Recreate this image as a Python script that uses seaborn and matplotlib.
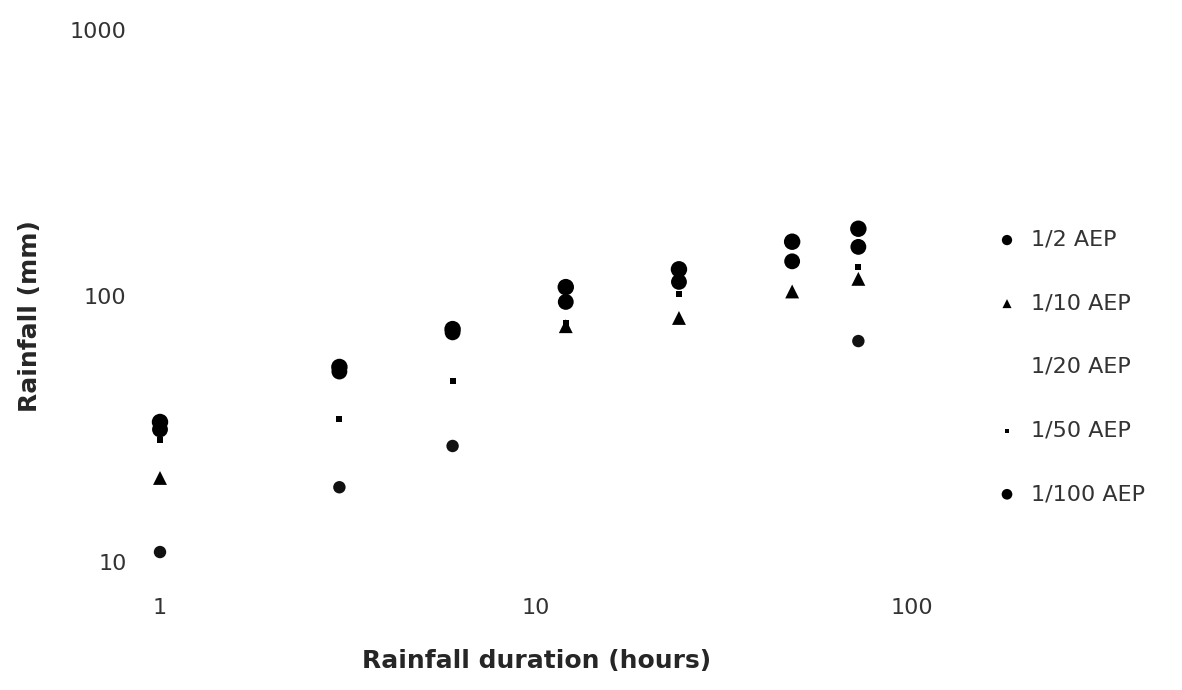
import matplotlib
matplotlib.use("Agg")
import matplotlib.pyplot as plt
import seaborn as sns
import numpy as np
import pandas as pd
from matplotlib.ticker import FixedLocator, FixedFormatter, NullLocator

# Rainfall depth (mm) by storm duration (hours) for each annual exceedance probability
nan = np.nan
durations = [1, 3, 6, 12, 24, 48, 72]
aep_labels = ["1/2 AEP", "1/10 AEP", "1/20 AEP", "1/50 AEP", "1/100 AEP"]
rain_aep2 = [31.5, 52.0, 73.0, 95.0, 113.0, 135.0, 153.0]
rain_aep10 = [20.7, nan, nan, 77.0, 82.7, 104.0, 116.0]
rain_aep20 = [10.9, 19.1, 27.3, nan, nan, nan, 67.7]
rain_aep50 = [28.8, 34.5, 47.9, 79.0, 102.0, nan, 128.5]
rain_aep100 = [33.6, 54.1, 75.1, 108.0, 126.0, 160.0, 179.0]
x_ticks = [1, 10, 100]
y_ticks = [10, 100, 1000]

series = [rain_aep2, rain_aep10, rain_aep20, rain_aep50, rain_aep100]
frames = []
for label, vals in zip(aep_labels, series):
    frames.append(pd.DataFrame({"duration": durations, "rain": vals, "aep": label}))
df = pd.concat(frames, ignore_index=True).dropna()

styles = {
    "1/2 AEP": dict(marker="o", s=130, color="black"),
    "1/10 AEP": dict(marker="^", s=100, color="black"),
    "1/20 AEP": dict(marker="o", s=80, color="#111111"),
    "1/50 AEP": dict(marker="s", s=18, color="black"),
    "1/100 AEP": dict(marker="o", s=140, color="black"),
}

sns.set_style("white")
plt.rcParams["font.family"] = ["DejaVu Sans"]

fig = plt.figure(figsize=(11.82, 6.9), dpi=100)
ax = fig.add_axes([160 / 1182, 1 - 562 / 690, (912 - 160) / 1182, (562 - 30) / 690])

for label in aep_labels:
    sub = df[df["aep"] == label]
    st = styles[label]
    sns.scatterplot(data=sub, x="duration", y="rain", marker=st["marker"], s=st["s"],
                    color=st["color"], edgecolor="none", linewidth=0, label=label, ax=ax)

ax.set_xscale("log")
ax.set_yscale("log")
ax.set_xlim(1, 100)
ax.set_ylim(10, 1000)
ax.xaxis.set_major_locator(FixedLocator(x_ticks))
ax.xaxis.set_major_formatter(FixedFormatter([str(t) for t in x_ticks]))
ax.yaxis.set_major_locator(FixedLocator(y_ticks))
ax.yaxis.set_major_formatter(FixedFormatter([str(t) for t in y_ticks]))
ax.xaxis.set_minor_locator(NullLocator())
ax.yaxis.set_minor_locator(NullLocator())
ax.tick_params(axis="both", length=0, labelsize=16, colors="#333333")
ax.tick_params(axis="x", pad=26)
ax.tick_params(axis="y", pad=24)
for sp in ax.spines.values():
    sp.set_visible(False)
for coll in ax.collections:
    coll.set_clip_on(False)

ax.set_xlabel("Rainfall duration (hours)", fontsize=18, fontweight="bold", va="center")
ax.xaxis.set_label_coords(0.501, (562 - 661) / 532)
ax.set_ylabel("Rainfall (mm)", fontsize=18, fontweight="bold", va="center")
ax.yaxis.set_label_coords((30 - 160) / 752, (562 - 316) / 532)

leg = ax.legend(loc="center left", bbox_to_anchor=(987 / 1182, 1 - 367 / 690),
                bbox_transform=fig.transFigure, frameon=False, fontsize=16,
                labelspacing=1.96, handlelength=1.0, handletextpad=0.6, borderaxespad=0,
                markerscale=0.65, labelcolor="#333333")
# the 1/20 swatch is too pale to register in the key
leg.legend_handles[2].set_alpha(0)

fig.savefig("out.png", dpi=100)
